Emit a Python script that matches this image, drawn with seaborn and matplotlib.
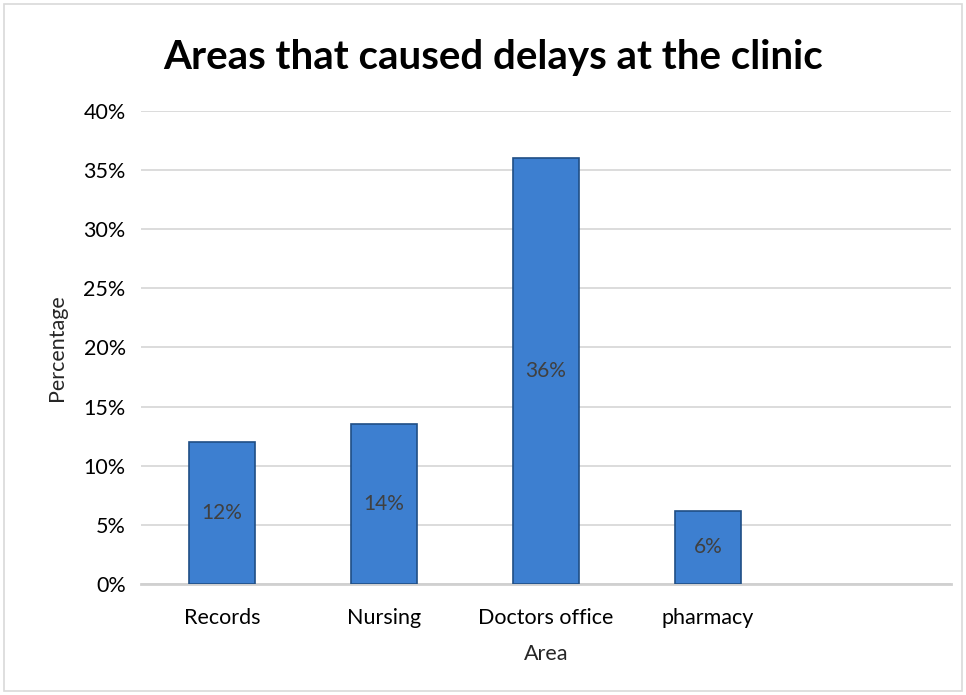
import matplotlib
matplotlib.use("Agg")
import matplotlib.pyplot as plt
import seaborn as sns
import pandas as pd
from matplotlib.patches import Rectangle
from matplotlib.ticker import PercentFormatter

categories = ["Records", "Nursing", "Doctors office", "pharmacy"]
values = [12.0, 13.5, 36.0, 6.2]
labels = ["12%", "14%", "36%", "6%"]

sns.set_theme(style="white")
plt.rcParams['font.family'] = ['Lato', 'DejaVu Sans']

df = pd.DataFrame({"Area": categories, "Percentage": values})

fig = plt.figure(figsize=(9.66, 6.95), dpi=100)
ax = fig.add_axes([141/966, 1-584/695, 810/966, (584-111)/695])

sns.barplot(data=df, x="Area", y="Percentage", ax=ax, color="#3D7FD0",
            saturation=1, width=0.41, edgecolor="#1F4E85", linewidth=1.2, zorder=3)

ax.set_xlim(-0.5, 4.5)
ax.set_ylim(0, 40)
ax.set_yticks(range(0, 41, 5))
ax.yaxis.set_major_formatter(PercentFormatter(decimals=0))
ax.grid(axis="y", color="#D9D9D9", linewidth=1.3, zorder=0)
ax.grid(axis="x", visible=False)
for s in ["top", "right", "left"]:
    ax.spines[s].set_visible(False)
ax.spines["bottom"].set_color("#D0D0D0")
ax.spines["bottom"].set_linewidth(2)
ax.tick_params(axis="both", length=0, labelsize=15.5, colors="#000000")
ax.tick_params(axis="y", pad=11)
ax.tick_params(axis="x", pad=17)

for p, lab in zip(ax.patches, labels):
    ax.text(p.get_x() + p.get_width()/2, p.get_height()/2, lab,
            ha="center", va="center", fontsize=15, color="#404040", zorder=4)

ax.set_xlabel("Area", fontsize=15.5, labelpad=12)
ax.set_ylabel("Percentage", fontsize=15.5, labelpad=12)

fig.text(493/966, 1-57/695, "Areas that caused delays at the clinic",
         ha="center", va="center", fontsize=29, fontweight="bold", color="#000000")

fig.patches.append(Rectangle((4/966, 4/695), 958/966, 687/695, transform=fig.transFigure,
                             fill=False, edgecolor="#D9D9D9", linewidth=1.2))

fig.savefig("out.png", dpi=100)
